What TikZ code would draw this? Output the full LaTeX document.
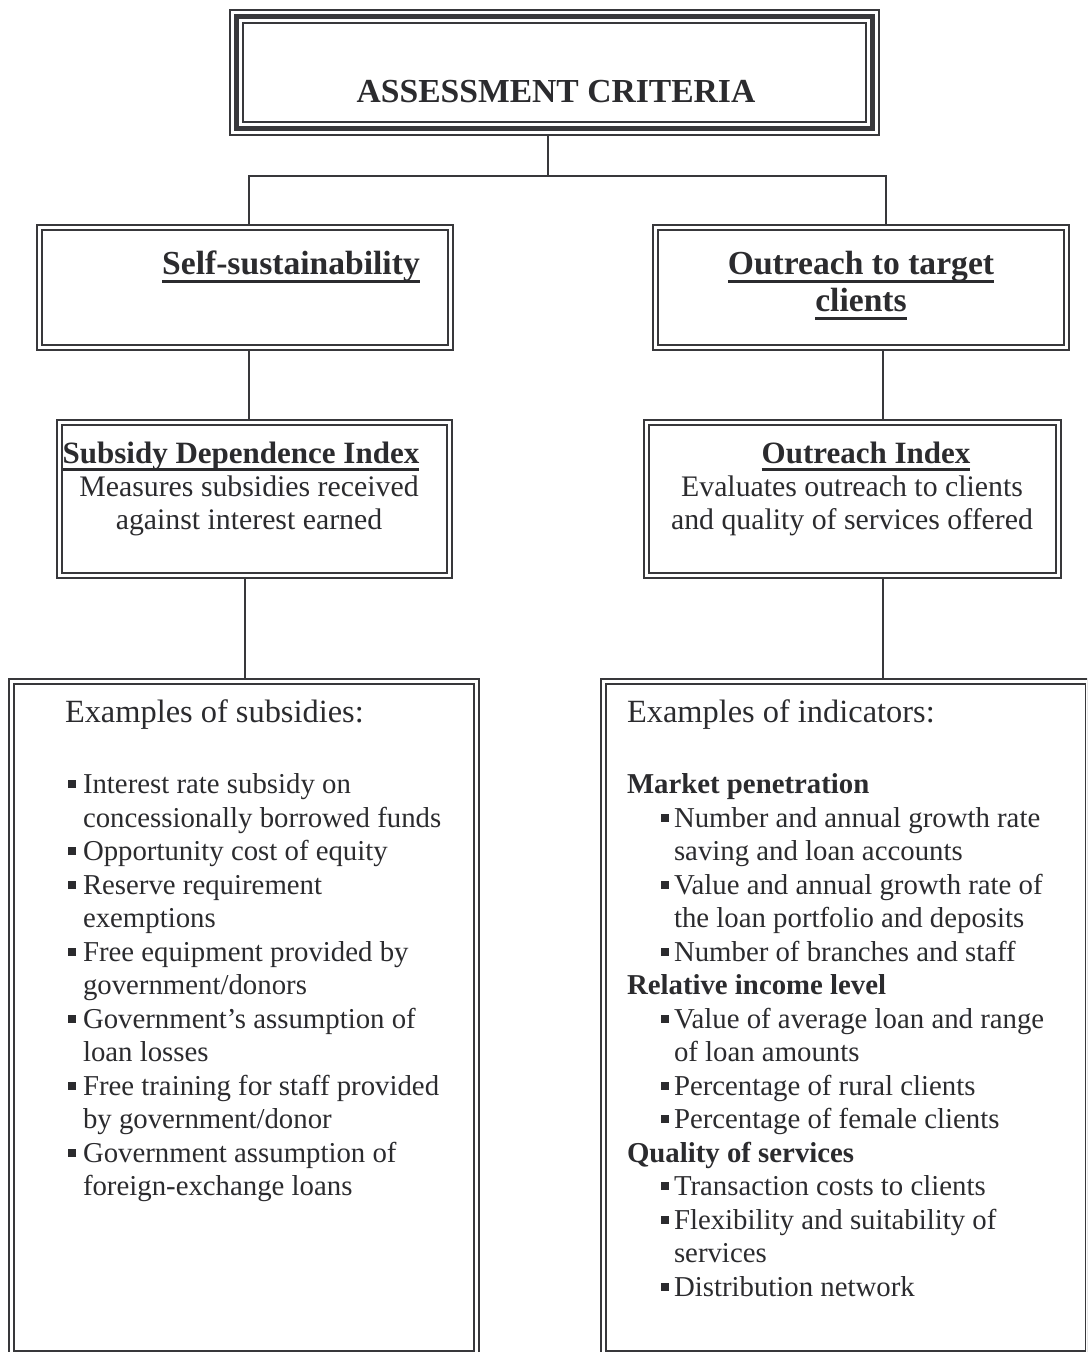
\documentclass[tikz,border=0pt]{standalone}
\usepackage{fontspec}
\setmainfont{Liberation Serif}
\usepackage{xcolor}
\definecolor{boxGray}{rgb}{0.22,0.22,0.23}
\definecolor{textGray}{rgb}{0.17,0.17,0.18}
\newcommand{\sqbullet}{\raisebox{0.2em}{\rule{3.9pt}{3.9pt}}}
\newcommand{\lbul}{\makebox[9pt][l]{\hspace*{1.5pt}\sqbullet}}
\newcommand{\lind}{\hspace*{9pt}}
\newcommand{\rbul}{\makebox[23.5pt][l]{\hspace*{17pt}\sqbullet}}
\newcommand{\rind}{\hspace*{23.5pt}}
\newcommand{\hdul}[1]{\setbox0\hbox{#1}\rlap{\rule[-3.9pt]{\wd0}{1.2pt}}\box0}
\begin{document}
\begin{tikzpicture}[x=0.5pt, y=-0.5pt, line width=1pt,
  dbl/.style={draw=boxGray, line width=0.9pt, double=white, double distance=1.7pt, outer sep=1.75pt, inner sep=0pt},
  trip/.style={draw=boxGray, line width=2.5pt, preaction={draw=boxGray, line width=7.5pt}, preaction={draw=white, line width=5.5pt}, outer sep=3.75pt, inner sep=0pt},
  head/.style={font=\fontsize{16.8}{19.5}\selectfont\bfseries, text=textGray, inner sep=0pt, anchor=base},
  subhead/.style={head, font=\fontsize{15.5}{18}\selectfont\bfseries},
  desc/.style={font=\fontsize{14.9}{16.4}\selectfont, text=textGray, inner sep=0pt, align=center, anchor=base},
  list/.style={font=\fontsize{14.4}{16.75}\selectfont, text=textGray, inner sep=0pt, align=left, anchor=north west}]
 	\useasboundingbox (0,0) rectangle (1087,1352);
 	\clip (0,0) rectangle (1087,1352);
 	\node[trip, minimum width=318pt, minimum height=56pt] (crit) at (554.5,72.5) {};
 	\node[head] (critt) at (556,103) {ASSESSMENT CRITERIA};
 	\node[dbl, minimum width=205.5pt, minimum height=60pt] (selfs) at (245,287.5) {};
 	\node[head] (selfst) at (291,275) {\hdul{Self-sustainability}};
 	\node[dbl, minimum width=205.5pt, minimum height=60pt] (reach) at (861,287.5) {};
 	\node[head] (reacht) at (861,275) {\hdul{Outreach to target}};
 	\node[head] (reacht2) at (861,312) {\hdul{clients}};
 	\node[dbl, minimum width=195pt, minimum height=76.5pt] (sdi) at (254.5,499) {};
 	\node[subhead] (sdit) at (241,463) {\hdul{Subsidy Dependence Index}};
 	\node[desc] (sdid) at (249,529) {Measures subsidies received\\against interest earned};
 	\node[dbl, minimum width=206pt, minimum height=76.5pt] (oi) at (852.5,499) {};
 	\node[subhead] (oit) at (866,463) {\hdul{Outreach Index}};
 	\node[desc] (oid) at (852,529) {Evaluates outreach to clients\\and quality of services offered};
 	\node[dbl, minimum width=232.5pt, minimum height=336pt] (subs) at (244,1017.5) {};
 	\node[dbl, minimum width=242.25pt, minimum height=336pt] (ind) at (845.75,1017.5) {};
 	\node[list] (subsl) at (64,699) {{\fontsize{16.2}{19}\selectfont Examples of subsidies:}\\[18.75pt]
 	  \lbul Interest rate subsidy on\\
 	  \lind concessionally borrowed funds\\
 	  \lbul Opportunity cost of equity\\
 	  \lbul Reserve requirement\\
 	  \lind exemptions\\
 	  \lbul Free equipment provided by\\
 	  \lind government/donors\\
 	  \lbul Government's assumption of\\
 	  \lind loan losses\\
 	  \lbul Free training for staff provided\\
 	  \lind by government/donor\\
 	  \lbul Government assumption of\\
 	  \lind foreign-exchange loans};
 	\node[list] (indl) at (626,699) {{\fontsize{16.2}{19}\selectfont Examples of indicators:}\\[18.75pt]
 	  \textbf{Market penetration}\\
 	  \rbul Number and annual growth rate\\
 	  \rind saving and loan accounts\\
 	  \rbul Value and annual growth rate of\\
 	  \rind the loan portfolio and deposits\\
 	  \rbul Number of branches and staff\\
 	  \textbf{Relative income level}\\
 	  \rbul Value of average loan and range\\
 	  \rind of loan amounts\\
 	  \rbul Percentage of rural clients\\
 	  \rbul Percentage of female clients\\
 	  \textbf{Quality of services}\\
 	  \rbul Transaction costs to clients\\
 	  \rbul Flexibility and suitability of\\
 	  \rind services\\
 	  \rbul Distribution network};
 	\coordinate (hub) at (548,176);
 	\coordinate (hubL) at (249,176);
 	\coordinate (hubR) at (886,176);
 	\draw[boxGray] (crit.south -| hub) -- (hub);
 	\draw[boxGray] (hubL |- selfs.north) -- (hubL) -- (hubR) -- (hubR |- reach.north);
 	\draw[boxGray] (selfs.south -| hubL) -- (hubL |- sdi.north);
 	\draw[boxGray] (reach.south -| oi.north) ++(30.5,0) coordinate (rtop) -- (rtop |- oi.north);
 	\draw[boxGray] (sdi.south -| hubL) ++(-4,0) coordinate (lbot) -- (lbot |- subs.north);
 	\draw[boxGray] (oi.south -| rtop) -- (rtop |- ind.north);
\end{tikzpicture}
\end{document}
